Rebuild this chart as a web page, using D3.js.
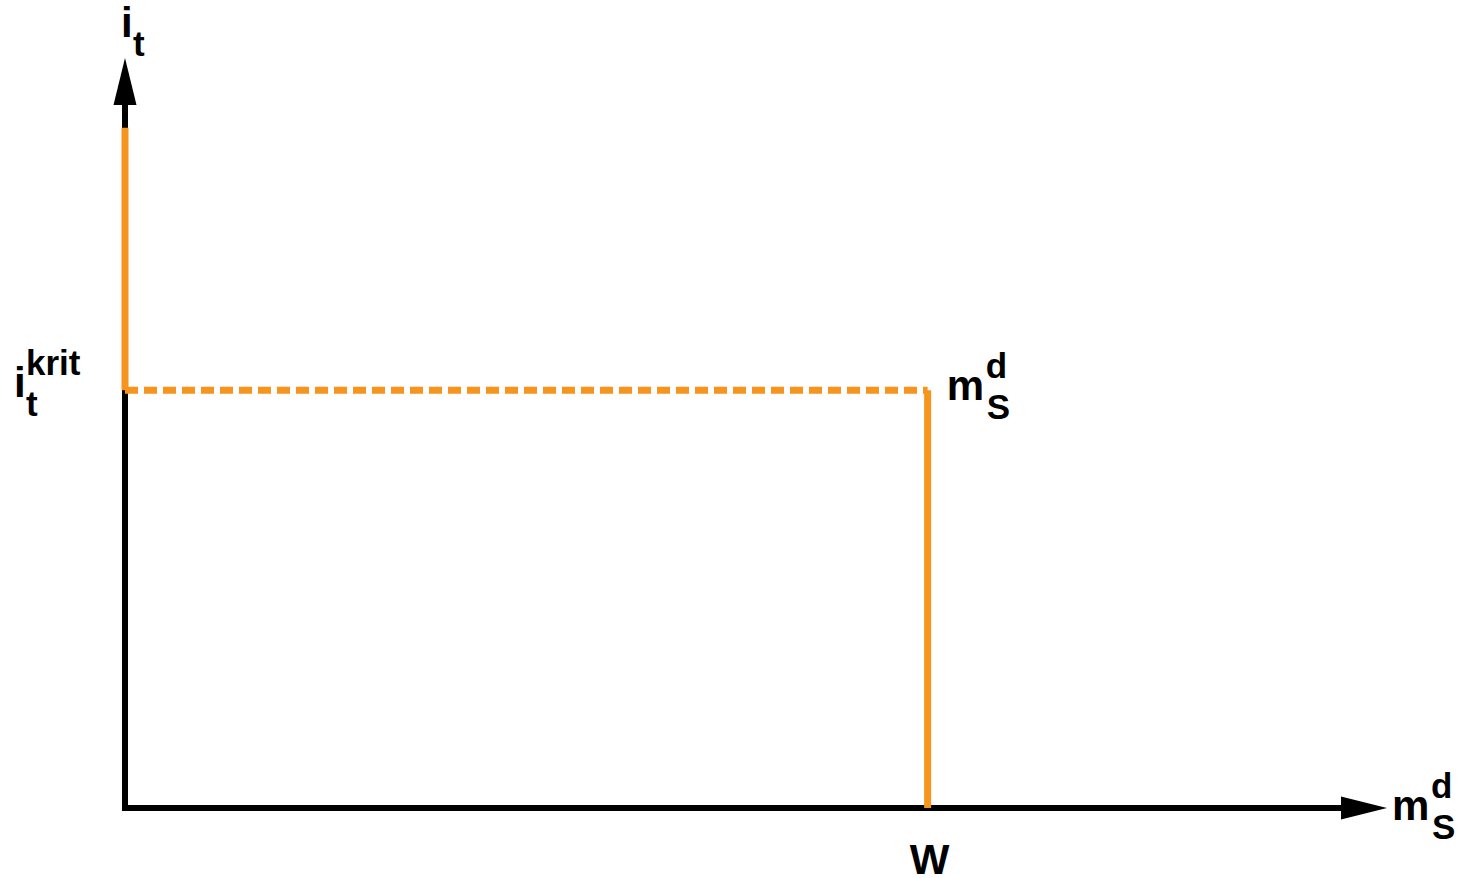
<!DOCTYPE html>
<html>
<head>
<meta charset="utf-8">
<script src="https://cdn.jsdelivr.net/npm/d3@7"></script>
<style>
    body { margin: 0; background: #fff; }
    text { font-family: 'Liberation Sans', Arial, sans-serif; font-weight: bold; fill: #000; }
</style>
</head>
<body>
<div id="chart"></div>
<script>
// Chart values (unitless, 0..1 along each axis)
const wValue = 0.636          // W on the x axis
const iKrit = 0.557           // critical interest rate i_t^krit
const curveTop = 0.907        // top end of the vertical branch at m = 0
// orange curve: [from, to, dashed?]
const curveSegments = [
    [[0, curveTop], [0, iKrit], false],
    [[0, iKrit], [wValue, iKrit], true],
    [[wValue, iKrit], [wValue, 0], false]
]
const xTickLabels = ['W']

const width = 1462
const height = 878
const orange = '#F7941D'

let svg = d3.select('#chart')
            .append('svg')
            .attr('width', width)
            .attr('height', height)

// Scales
let xScale = d3.scaleLinear().domain([0, 1]).range([125, 1387])
let yScale = d3.scaleLinear().domain([0, 1]).range([808, 58])

// Axis lines (drawn up to the arrowhead base)
svg.append('line')
.attr('x1', xScale(0)).attr('y1', yScale(0))
.attr('x2', xScale(1) - 46).attr('y2', yScale(0))
.attr('stroke', '#000').attr('stroke-width', 6)
.attr('stroke-linecap', 'square')

svg.append('line')
.attr('x1', xScale(0)).attr('y1', yScale(0))
.attr('x2', xScale(0)).attr('y2', yScale(1) + 47)
.attr('stroke', '#000').attr('stroke-width', 6)
.attr('stroke-linecap', 'square')

// Arrowheads
const ax = xScale(1), ay = yScale(0)
svg.append('path')
.attr('d', `M${ax},${ay} L${ax - 46},${ay - 11.5} L${ax - 46},${ay + 11.5} Z`)
.attr('fill', '#000')

const bx = xScale(0), by = yScale(1)
svg.append('path')
.attr('d', `M${bx},${by} L${bx - 11.5},${by + 47} L${bx + 11.5},${by + 47} Z`)
.attr('fill', '#000')

// Orange curve
svg.append('g').selectAll('line')
.data(curveSegments)
.enter()
.append('line')
.attr('x1', (d) => xScale(d[0][0]))
.attr('y1', (d) => yScale(d[0][1]))
.attr('x2', (d) => xScale(d[1][0]))
.attr('y2', (d) => yScale(d[1][1]))
.attr('stroke', orange)
.attr('stroke-width', 7)
.attr('stroke-dasharray', (d) => d[2] ? '13,6' : null)

// Labels with sub/superscripts
const subSup = (x, y, main, sup, sub, size, subSize) => {
    let g = svg.append('g')
    g.append('text').attr('x', x).attr('y', y)
    .attr('font-size', size).text(main)
    let w = main === 'i' ? 12 : 39
    if (sup) {
        g.append('text').attr('x', x + w).attr('y', y - 22)
        .attr('font-size', subSize).text(sup)
    }
    if (sub) {
        g.append('text').attr('x', x + w + (main === 'i' ? 0 : 1)).attr('y', y + 19)
        .attr('font-size', subSize).text(sub)
    }
}

// y axis title
subSup(xScale(0) - 4, yScale(1) - 21, 'i', null, 't', 42, 35)
// i_t^krit at the critical level
subSup(xScale(0) - 111, yScale(iKrit) + 7, 'i', 'krit', 't', 42, 35)
// m_S^d at the end of the dashed line
subSup(xScale(wValue) + 19, yScale(iKrit) + 10, 'm', 'd', 'S', 42, 35)
// x axis title
subSup(xScale(1) + 5, yScale(0) + 12, 'm', 'd', 'S', 42, 35)

// x tick label
svg.append('g').selectAll('text')
.data(xTickLabels)
.enter()
.append('text')
.attr('x', xScale(wValue) + 2)
.attr('y', yScale(0) + 66)
.attr('text-anchor', 'middle')
.attr('font-size', 42)
.text((d) => d)
</script>
</body>
</html>
